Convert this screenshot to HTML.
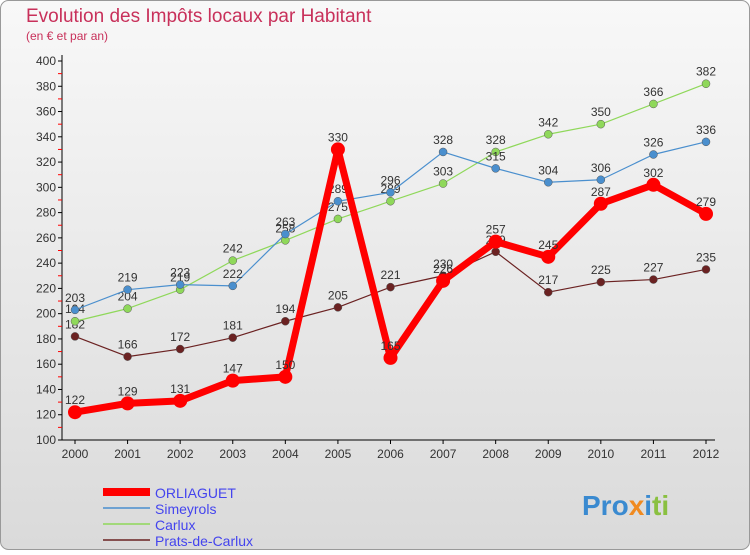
<!DOCTYPE html>
<html><head><meta charset="utf-8"><style>
body{margin:0;width:750px;height:550px;overflow:hidden;font-family:"Liberation Sans",sans-serif}
</style></head><body>
<svg width="750" height="550" xmlns="http://www.w3.org/2000/svg">
<defs><linearGradient id="bg" x1="0" y1="0" x2="0" y2="1"><stop offset="0" stop-color="#f8f8f8"/><stop offset="1" stop-color="#dadada"/></linearGradient></defs>
<rect x="0.5" y="0.5" width="749" height="549" rx="8" fill="url(#bg)" stroke="#999"/>
<text x="26" y="22" font-size="19" fill="#c8305a">Evolution des Impôts locaux par Habitant</text>
<text x="26" y="40" font-size="12" fill="#c8305a">(en € et par an)</text>
<g id="axes"></g><g id="series"></g>
<g>
<line x1="103" y1="492" x2="150" y2="492" stroke="#f00" stroke-width="8"/>
<text x="155" y="498" font-size="14" fill="#44e">ORLIAGUET</text>
<line x1="103" y1="508" x2="150" y2="508" stroke="#4a8fce" stroke-width="1.5"/>
<text x="155" y="514" font-size="14" fill="#44e">Simeyrols</text>
<line x1="103" y1="524" x2="150" y2="524" stroke="#8fd85a" stroke-width="1.5"/>
<text x="155" y="530" font-size="14" fill="#44e">Carlux</text>
<line x1="103" y1="540" x2="150" y2="540" stroke="#6b2222" stroke-width="1.5"/>
<text x="155" y="546" font-size="14" fill="#44e">Prats-de-Carlux</text>
</g>
<g font-size="28" font-weight="bold">
<text x="582" y="515"><tspan fill="#3a8ad0">Pro</tspan><tspan fill="#f08a20">x</tspan><tspan fill="#3a8ad0">i</tspan><tspan fill="#8ac040">ti</tspan></text>
</g>
</svg>
<script>
const years=[2000,2001,2002,2003,2004,2005,2006,2007,2008,2009,2010,2011,2012];
const orliaguet=[122,129,131,147,150,330,165,226,257,245,287,302,279];
const simeyrols=[203,219,223,222,263,289,296,328,315,304,306,326,336];
const carlux=[194,204,219,242,258,275,289,303,328,342,350,366,382];
const prats=[182,166,172,181,194,205,221,230,249,217,225,227,235];
const yTicks=[100,120,140,160,180,200,220,240,260,280,300,320,340,360,380,400];
const NS="http://www.w3.org/2000/svg";
const X=i=>75+i*(706-75)/(years.length-1);
const Y=v=>440-(v-100)*(440-61)/300;
function mk(t,a,p){const e=document.createElementNS(NS,t);for(const k in a)e.setAttribute(k,a[k]);p.appendChild(e);return e;}
const ax=document.getElementById('axes');
let l=mk('line',{x1:62,y1:55,x2:62,y2:440,stroke:'#000'},ax);


l=mk('line',{x1:62,y1:440,x2:715,y2:440,stroke:'#000'},ax);


for(let v=110;v<400;v+=20){mk('line',{x1:58,y1:Y(v),x2:62,y2:Y(v),stroke:'#f00'},ax);}
yTicks.forEach(v=>{mk('line',{x1:58,y1:Y(v),x2:62,y2:Y(v),stroke:'#000'},ax);
const t=mk('text',{x:56,y:Y(v)+4,'font-size':12,'text-anchor':'end',fill:'#333'},ax);t.textContent=v;

});
years.forEach((y,i)=>{mk('line',{x1:X(i),y1:440,x2:X(i),y2:444,stroke:'#000'},ax);
const t=mk('text',{x:X(i),y:458,'font-size':12,'text-anchor':'middle',fill:'#333'},ax);t.textContent=y;

});
const sg=document.getElementById('series');
function series(d,col,w,r,name){
const g=mk('g',{},sg);


mk('polyline',{points:d.map((v,i)=>X(i)+','+Y(v)).join(' '),fill:'none',stroke:col,'stroke-width':w,'stroke-linejoin':'round'},g);
d.forEach((v,i)=>{const c=mk('circle',{cx:X(i),cy:Y(v),r:r,fill:col,stroke:w>3?col:'#555','stroke-width':w>3?0:0.5},g);


const t=mk('text',{x:X(i),y:Y(v)-8,'font-size':12,'text-anchor':'middle',fill:'#333'},g);t.textContent=v;

});
}
series(prats,'#6b2222',1.2,4,'series-prats');
series(carlux,'#8fd85a',1.2,4,'series-carlux');
series(simeyrols,'#4a8fce',1.2,4,'series-simeyrols');
series(orliaguet,'#f00',7,7,'series-orliaguet');
</script>
</body></html>
